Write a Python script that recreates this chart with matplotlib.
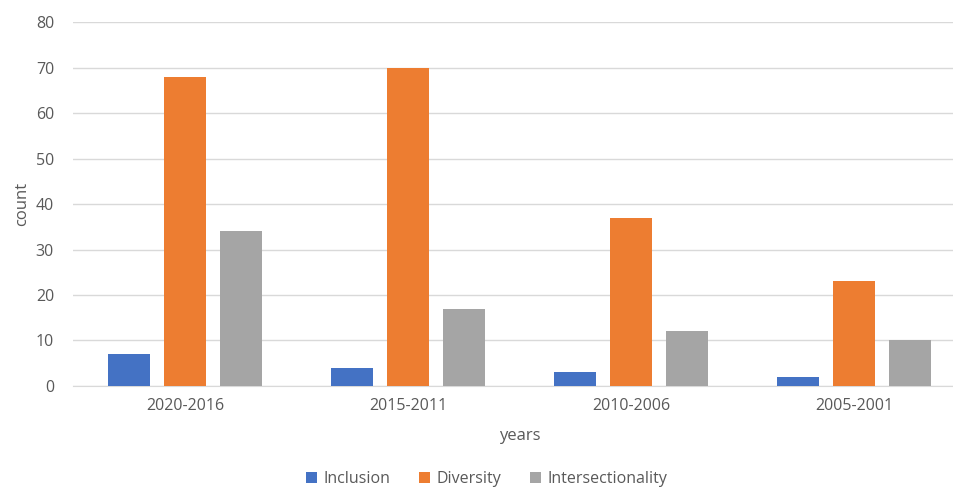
import matplotlib

matplotlib.use("Agg")

import matplotlib.pyplot as plt
import numpy as np

# Publication counts per period.
periods = ["2020-2016", "2015-2011", "2010-2006", "2005-2001"]
inclusion = [7, 4, 3, 2]
diversity = [68, 70, 37, 23]
intersectionality = [34, 17, 12, 10]

series = [
    ("Inclusion", inclusion, "#4472C4"),
    ("Diversity", diversity, "#ED7D31"),
    ("Intersectionality", intersectionality, "#A5A5A5"),
]

plt.rcParams["font.family"] = ["Open Sans", "DejaVu Sans"]
text_color = "#595959"

fig = plt.figure(figsize=(9.54, 4.87), dpi=100)
ax = fig.add_axes([0.077, 0.2074, 0.935, 0.7474])

x = np.arange(len(periods))
width = 0.19
step = 0.25
for k, (name, values, color) in enumerate(series):
    ax.bar(x + (k - 1) * step, values, width=width, color=color, label=name, zorder=3)

ax.set_xlim(-0.5, len(periods) - 0.5)
ax.set_ylim(0, 80)
ax.set_yticks(range(0, 81, 10))
ax.set_xticks(x)
ax.set_xticklabels(periods)
ax.grid(axis="y", color="#D9D9D9", linewidth=1.0, zorder=0)
for side in ["top", "right", "left"]:
    ax.spines[side].set_visible(False)
ax.spines["bottom"].set_color("#D9D9D9")
ax.tick_params(axis="both", length=0, colors=text_color, labelsize=11.5)
ax.tick_params(axis="y", pad=14)
ax.tick_params(axis="x", pad=9)

ax.set_xlabel("years", color=text_color, fontsize=12, labelpad=10)
ax.set_ylabel("count", color=text_color, fontsize=12, labelpad=4)

fig.legend(
    loc="center", bbox_to_anchor=(0.51, 0.017), ncol=3, frameon=False,
    fontsize=11.5, labelcolor=text_color, handlelength=0.7, handleheight=0.7,
    handletextpad=0.4, columnspacing=1.8,
)

fig.savefig("out.png", dpi=100)
